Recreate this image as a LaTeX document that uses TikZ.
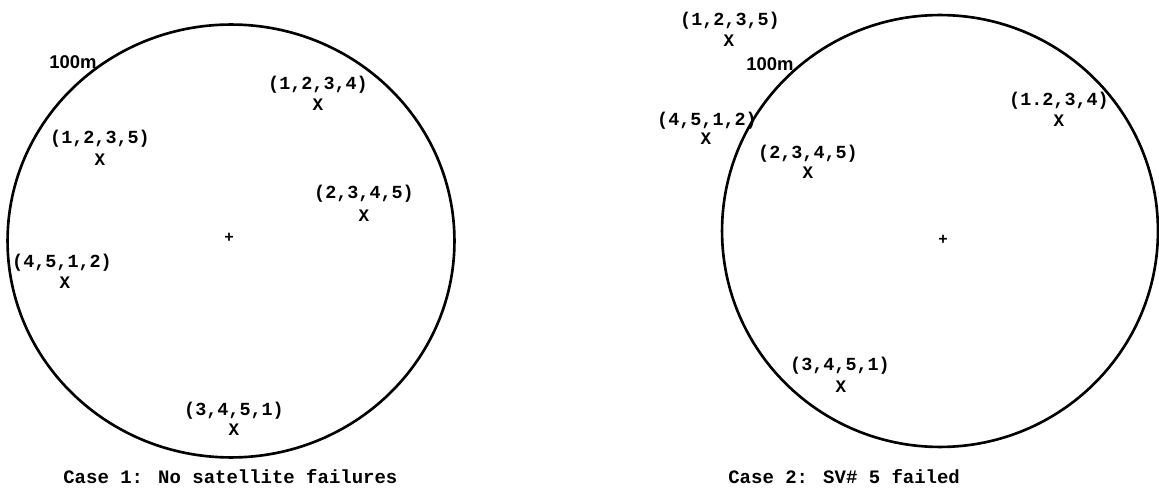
\documentclass[tikz,border=0pt]{standalone}
\usepackage{fontspec}
\usetikzlibrary{shapes.geometric}
\newfontfamily\labfont{Liberation Mono}
\newfontfamily\hfont{Liberation Sans}
\begin{document}
\begin{tikzpicture}[x=0.02cm,y=-0.02cm,
  lab/.style={inner sep=0pt,font=\labfont\bfseries\fontsize{10.5}{12}\selectfont},
  mk/.style={inner sep=0pt,font=\labfont\bfseries\fontsize{10}{12}\selectfont},
  hund/.style={inner sep=0pt,font=\hfont\bfseries\fontsize{10.5}{12}\selectfont},
  captxt/.style={inner sep=0pt,font=\labfont\bfseries\fontsize{10.8}{13}\selectfont},
  ctr/.style={inner sep=0pt,font=\labfont\bfseries\fontsize{9}{9}\selectfont},
  ring/.style={draw=black,line width=1.5pt}]
\useasboundingbox (0,0) rectangle (1159,489);
% Case 1
\node[ring,ellipse,minimum width=8.94cm,minimum height=8.66cm,inner sep=0pt] (c1) at (231,241) {};
\node[ctr] (p1) at (229,238) {+};
\node[hund] (h1) at (73,62) {100m};
\node[lab] (a1) at (318,85) {(1,2,3,4)};
\node[mk] (x1) at (318,105) {X};
\node[lab] (a2) at (100,139) {(1,2,3,5)};
\node[mk] (x2) at (100,160) {X};
\node[lab] (a3) at (364,194) {(2,3,4,5)};
\node[mk] (x3) at (364,216) {X};
\node[lab] (a4) at (62,263) {(4,5,1,2)};
\node[mk] (x4) at (65,283) {X};
\node[lab] (a5) at (234,411) {(3,4,5,1)};
\node[mk] (x5) at (234,430) {X};
\node[captxt,anchor=west] (t1) at (63,477) {Case 1: No satellite failures};
% Case 2
\node[ring,ellipse,minimum width=8.72cm,minimum height=8.64cm,inner sep=0pt] (c2) at (940,231) {};
\node[ctr] (p2) at (943,240) {+};
\node[lab] (b1) at (730,21) {(1,2,3,5)};
\node[mk] (y1) at (729,41) {X};
\node[hund] (h2) at (770,64) {100m};
\node[lab] (b2) at (707,121) {(4,5,1,2)};
\node[mk] (y2) at (706,139) {X};
\node[lab] (b3) at (1059,101) {(1.2,3,4)};
\node[mk] (y3) at (1059,121) {X};
\node[lab] (b4) at (808,154) {(2,3,4,5)};
\node[mk] (y4) at (808,173) {X};
\node[lab] (b5) at (840,366) {(3,4,5,1)};
\node[mk] (y5) at (841,387) {X};
\node[captxt,anchor=west] (t2) at (728,477) {Case 2: SV\# 5 failed};
\end{tikzpicture}
\end{document}
